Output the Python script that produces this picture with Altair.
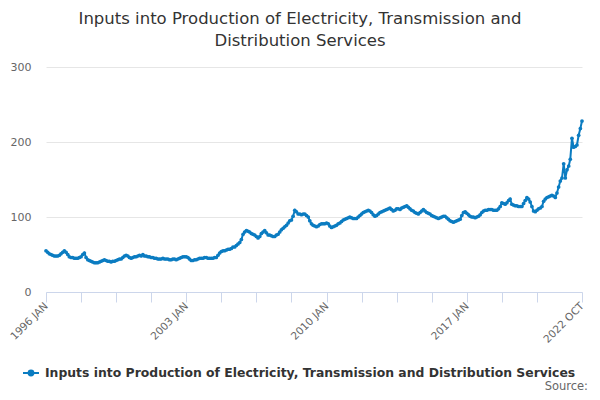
import altair as alt
import pandas as pd

SERIES = "Inputs into Production of Electricity, Transmission and Distribution Services"
TITLE = ["Inputs into Production of Electricity, Transmission and", "Distribution Services"]

v1996 = [55, 53, 51, 50, 49, 48, 48, 48, 49, 51, 53, 55]
v1997 = [53, 50, 47, 46, 46, 45, 45, 45, 46, 47, 50, 52]
v1998 = [46, 43, 42, 41, 40, 39, 39, 39, 40, 41, 42, 43]
v1999 = [42, 41, 41, 40, 41, 41, 42, 43, 44, 44, 46, 48]
v2000 = [49, 48, 46, 45, 46, 47, 47, 48, 49, 48, 50, 48]
v2001 = [48, 47, 47, 46, 46, 45, 45, 44, 44, 44, 45, 44]
v2002 = [44, 44, 43, 43, 44, 44, 43, 44, 45, 46, 47, 47]
v2003 = [47, 46, 44, 42, 42, 43, 43, 44, 45, 45, 45, 46]
v2004 = [46, 45, 45, 45, 45, 46, 46, 49, 52, 54, 55, 55]
v2005 = [56, 57, 57, 58, 60, 60, 62, 64, 66, 70, 77, 80]
v2006 = [82, 81, 80, 78, 77, 76, 74, 72, 74, 78, 80, 82]
v2007 = [79, 76, 76, 75, 74, 74, 76, 77, 80, 83, 85, 87]
v2008 = [89, 92, 95, 96, 101, 109, 107, 104, 104, 103, 104, 104]
v2009 = [102, 100, 95, 91, 89, 88, 87, 88, 90, 91, 91, 91]
v2010 = [92, 91, 88, 86, 87, 88, 89, 91, 92, 94, 96, 97]
v2011 = [98, 99, 100, 99, 98, 98, 98, 100, 102, 104, 106, 107]
v2012 = [108, 109, 108, 106, 103, 101, 102, 104, 106, 107, 108, 109]
v2013 = [110, 111, 112, 110, 108, 109, 111, 111, 110, 112, 113, 114]
v2014 = [115, 113, 111, 109, 108, 106, 105, 104, 106, 108, 110, 108]
v2015 = [106, 105, 104, 102, 101, 100, 99, 98, 99, 100, 101, 101]
v2016 = [99, 97, 95, 94, 93, 94, 95, 96, 97, 102, 106, 107]
v2017 = [105, 103, 101, 100, 100, 99, 100, 101, 103, 106, 108, 109]
v2018 = [109, 110, 110, 110, 109, 109, 109, 111, 114, 119, 118, 117]
v2019 = [119, 122, 124, 117, 116, 115, 115, 114, 114, 114, 118, 122]
v2020 = [126, 124, 120, 114, 108, 107, 109, 111, 112, 114, 121, 124]
v2021 = [126, 127, 128, 129, 128, 126, 132, 140, 148, 152, 171, 152]
v2022 = [163, 168, 177, 205, 193, 194, 196, 209, 218, 228]

years = [v1996, v1997, v1998, v1999, v2000, v2001, v2002, v2003, v2004, v2005,
         v2006, v2007, v2008, v2009, v2010, v2011, v2012, v2013, v2014, v2015,
         v2016, v2017, v2018, v2019, v2020, v2021, v2022]

rows = []
for i, vals in enumerate(years):
    y = 1996 + i
    for m, v in enumerate(vals):
        rows.append({"date": f"{y}-{m + 1:02d}-01", "value": v, "series": SERIES})
df = pd.DataFrame(rows)

tick_dates = ["1996-01-01", "1997-10-01", "1999-07-01", "2001-04-01", "2003-01-01",
              "2004-10-01", "2006-07-01", "2008-04-01", "2010-01-01", "2011-10-01",
              "2013-07-01", "2015-04-01", "2017-01-01", "2018-10-01", "2020-07-01",
              "2022-10-01"]
label_months = ["1996-01", "2003-01", "2010-01", "2017-01", "2022-10"]


def ms(s):
    return int(pd.Timestamp(s, tz="UTC").timestamp() * 1000)


tick_ms = [ms(d) for d in tick_dates]
label_expr = (
    "indexof(" + str(label_months) + ", utcFormat(datum.value, '%Y-%m')) >= 0 ? "
    "upper(utcFormat(datum.value, '%Y %b')) : ''"
)

BLUE = "#0b7cc1"
FONT = "DejaVu Sans"

line = alt.Chart(df).mark_line(
    strokeWidth=2,
    point=alt.OverlayMarkDef(size=14, filled=True, color=BLUE),
).encode(
    x=alt.X(
        "date:T",
        scale=alt.Scale(type="utc", domain=[ms("1996-01-01"), ms("2022-10-01")], nice=False),
        axis=alt.Axis(
            title=None, values=tick_ms, labelExpr=label_expr, grid=False,
            domainColor="#ccd6eb", tickColor="#ccd6eb", tickSize=10,
            labelAngle=315, labelAlign="right", labelBaseline="middle",
            labelPadding=2, labelOverlap=False, labelFlush=False,
            labelColor="#666666", labelFontSize=10.5, labelFont=FONT,
        ),
    ),
    y=alt.Y(
        "value:Q",
        scale=alt.Scale(domain=[0, 300], nice=False),
        axis=alt.Axis(
            title=None, values=[0, 100, 200, 300], domain=False, ticks=False,
            gridColor="#e6e6e6", labelColor="#666666", labelFontSize=11,
            labelFont=FONT, labelPadding=15,
        ),
    ),
    color=alt.Color(
        "series:N",
        scale=alt.Scale(range=[BLUE]),
        legend=alt.Legend(
            title=None, orient="none", legendX=-24, legendY=297,
            labelFont=FONT, labelFontSize=12.4, labelFontWeight="bold",
            labelColor="#333333", labelLimit=700, labelOffset=5,
            symbolType="M-1,0L1,0M-0.3,0A0.3,0.3,0,1,1,0.3,0A0.3,0.3,0,1,1,-0.3,0Z",
            symbolSize=256, symbolStrokeWidth=2, symbolFillColor=BLUE,
            symbolStrokeColor=BLUE,
        ),
    ),
)

source = alt.Chart(pd.DataFrame({"t": ["Source:"]})).mark_text(
    align="right", baseline="middle", font=FONT, fontSize=11.5, color="#666666"
).encode(x=alt.value(542), y=alt.value(320), text="t:N")

chart = alt.layer(line, source).properties(
    width=536,
    height=225,
    padding={"left": 38, "top": 59, "right": 6, "bottom": 101},
    autosize=alt.AutoSizeParams(type="none"),
    title=alt.TitleParams(
        text=TITLE, font=FONT, fontSize=16.5, fontWeight="normal", color="#333333",
        anchor="middle", dx=-14, offset=12, lineHeight=22,
    ),
).configure_view(stroke=None)

chart.save("out.html", embed_options={"renderer": "svg", "actions": False})
